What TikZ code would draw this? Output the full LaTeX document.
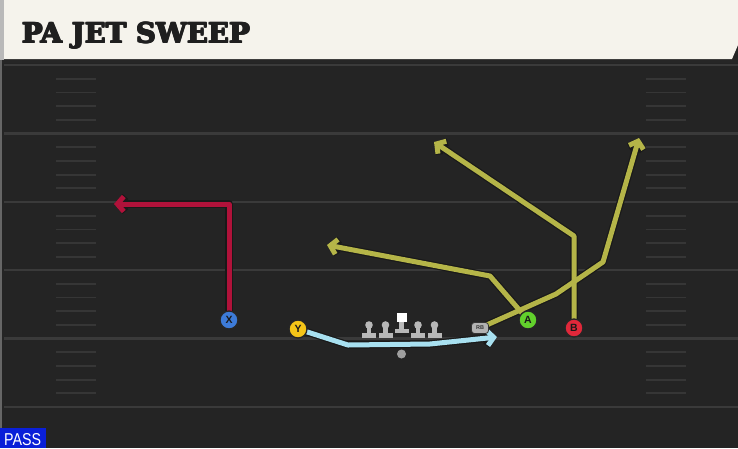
\documentclass[tikz,border=0pt]{standalone}
\usepackage{fontspec}
\setmainfont{Liberation Sans}
\newfontfamily\titlefont{DejaVu Serif}
\newfontfamily\lblfont{Liberation Sans}
\usetikzlibrary{arrows.meta}
\definecolor{fieldbg}{HTML}{242424}
\definecolor{titlebg}{HTML}{F5F3EC}
\definecolor{yardline}{HTML}{3A3A3A}
\definecolor{hashcol}{HTML}{363636}
\definecolor{routered}{HTML}{B0123A}
\definecolor{routeolive}{HTML}{B5B548}
\definecolor{routeblue}{HTML}{A8E0F0}
\definecolor{plblue}{HTML}{3D7BD8}
\definecolor{plyellow}{HTML}{F5C518}
\definecolor{plgreen}{HTML}{62D12C}
\definecolor{plred}{HTML}{E0283A}
\definecolor{linegray}{HTML}{B8B8B8}
\definecolor{passblue}{HTML}{0A1FD8}
\newcommand{\titletext}{\resizebox{228pt}{20.5pt}{\titlefont\bfseries\fontsize{28}{28}\selectfont PA JET SWEEP}}
\tikzset{
  player/.style={circle, minimum size=18pt, inner sep=0pt, draw=black!85, line width=1.3pt, font=\lblfont\bfseries\fontsize{10.5}{10.5}\selectfont, text=black!90},
  routeout/.style={line width=7.5pt, draw=black!90, line join=round, -{Straight Barb[length=6.5pt,width=15pt]}},
  routein/.style={line width=5pt, line join=round, -{Straight Barb[length=6.5pt,width=15pt]}},
  hashmark/.style={draw=hashcol, line width=1.8pt},
  yard/.style={draw=yardline, line width=2.2pt},
  titlestyle/.style={anchor=base west, inner sep=0pt, text=black!88},
}
\begin{document}
\begin{tikzpicture}[x=1pt,y=-1pt]
\useasboundingbox (0,0) rectangle (738,448);
% field
\fill[fieldbg] (0,0) rectangle (738,448);
\fill[black!85] (0,58) rectangle (738,63);
% title bar
\fill[titlebg] (0,0) -- (738,0) -- (738,45) -- (732,59) -- (0,59) -- cycle;
\fill[gray!55] (0,0) rectangle (4,60);
\fill[black!60] (0,60) rectangle (2,448);
\foreach \dx/\dy [count=\i] in {0/0,0.7/0,1.4/0,0/0.5,0.7/0.5,1.4/0.5}{
  \node[titlestyle] (title\i) at (21+\dx,43-\dy) {\titletext};
}
% yard lines and hashes
\foreach \y in {65,133.5,202,270,338.5,407}{
  \draw[yard] (4,\y) -- (738,\y);
}
\foreach \y in {65,133.5,202,270,338.5}{
  \foreach \k in {1,2,3,4}{
    \draw[hashmark] (56,\y+\k*13.7) -- (96,\y+\k*13.7);
    \draw[hashmark] (646,\y+\k*13.7) -- (686,\y+\k*13.7);
  }
}
% coordinates
\coordinate (xc) at (229,320);
\coordinate (yc) at (298,329);
\coordinate (ac) at (528,320);
\coordinate (bc) at (574,328);
\coordinate (rbc) at (480,328);
% route waypoints
\coordinate (x1) at (229,204);
\coordinate (x2) at (114,204);
\coordinate (y1) at (348,345);
\coordinate (y2) at (430,344);
\coordinate (y3) at (497,337);
\coordinate (a1) at (490,276);
\coordinate (a2) at (327,245);
\coordinate (r1) at (556,294);
\coordinate (r2) at (603,262);
\coordinate (r3) at (639,138);
\coordinate (b1) at (574,236);
\coordinate (b2) at (434,142);
% routes: outlines
\draw[routeout] (xc) -- (x1) -- (x2);
\draw[routeout] (yc) -- (y1) -- (y2) -- (y3);
\draw[routeout] (ac) -- (a1) -- (a2);
\draw[routeout] (rbc) -- (r1) -- (r2) -- (r3);
\draw[routeout] (bc) -- (b1) -- (b2);
% routes: colour
\draw[routein, draw=routered] (xc) -- (x1) -- (x2);
\draw[routein, draw=routeblue] (yc) -- (y1) -- (y2) -- (y3);
\draw[routein, draw=routeolive] (ac) -- (a1) -- (a2);
\draw[routein, draw=routeolive] (rbc) -- (r1) -- (r2) -- (r3);
\draw[routein, draw=routeolive] (bc) -- (b1) -- (b2);
% linemen
\foreach \lx in {369,385.5,418,434.5}{
  \fill[linegray] (\lx,325) circle (3.8);
  \fill[linegray] (\lx-2.4,325) rectangle (\lx+2.4,334);
  \fill[linegray] (\lx-7,333) rectangle (\lx+7,337.5);
}
% center
\fill[white] (396.5,312.5) rectangle (406.5,321.5);
\fill[linegray] (399.2,321.5) rectangle (403.8,330);
\fill[linegray] (394.5,329) rectangle (408.5,332.5);
% QB
\node[circle, fill=gray!75, minimum size=9pt, inner sep=0pt] (qb) at (401.5,354) {};
% players
\node[player, fill=plblue] (X) at (xc) {X};
\node[player, fill=plyellow] (Y) at (yc) {Y};
\node[player, fill=plgreen] (A) at (ac) {A};
\node[player, fill=plred] (B) at (bc) {B};
\node[draw=black!80, line width=0.8pt, fill=gray!60, rounded corners=3pt, minimum width=17pt, minimum height=11pt, inner sep=0pt, font=\lblfont\bfseries\fontsize{5.5}{5.5}\selectfont, text=black!80] (RB) at (rbc) {RB};
% PASS label
\fill[passblue] (0,428) rectangle (46,448);
\node[anchor=base west, inner sep=0pt, text=white] (pass) at (4,445)
  {\resizebox{37pt}{12pt}{\lblfont PASS}};
\end{tikzpicture}
\end{document}
